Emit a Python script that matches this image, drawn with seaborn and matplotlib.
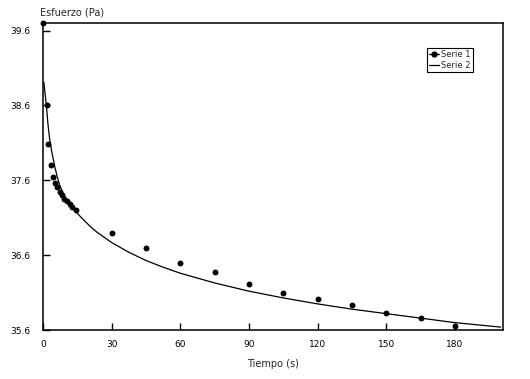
import matplotlib
matplotlib.use("Agg")
import matplotlib.pyplot as plt
from matplotlib.lines import Line2D
import seaborn as sns
import pandas as pd

# Serie 1: measured points
t_points = [0, 1.6, 2.4, 3.5, 4.4, 5.4, 6.2, 7.4, 8.3, 9.1, 10.4, 11.8, 12.8, 14.3,
            30, 45, 60, 75, 90, 105, 120, 135, 150, 165, 180]
stress_points = [39.7, 38.61, 38.08, 37.8, 37.65, 37.57, 37.51, 37.45, 37.40, 37.35, 37.32,
                 37.29, 37.24, 37.2, 36.90, 36.69, 36.49, 36.37, 36.22, 36.10, 36.02,
                 35.93, 35.83, 35.76, 35.66]

# Serie 2: fitted curve
t_curve = [0.4, 1.0, 1.5, 2.2, 2.9, 3.8, 5.2, 6.3, 7.4, 8.8, 10.3, 12.5, 14.7, 17.5, 20.5,
           23.5, 26.3, 30, 37.5, 45, 52.5, 60, 75, 90, 105, 120, 135, 150, 165, 180, 200]
stress_curve = [38.91, 38.74, 38.6, 38.35, 38.16, 37.99, 37.78, 37.64, 37.53, 37.43, 37.34,
                37.25, 37.17, 37.08, 36.99, 36.91, 36.85, 36.77, 36.64, 36.53, 36.44,
                36.36, 36.23, 36.12, 36.03, 35.95, 35.88, 35.82, 35.76, 35.70, 35.64]

x_ticks = [0, 30, 60, 90, 120, 150, 180]
y_ticks = [35.6, 36.6, 37.6, 38.6, 39.6]

df_pts = pd.DataFrame({"t": t_points, "s": stress_points})
df_fit = pd.DataFrame({"t": t_curve, "s": stress_curve})

sns.set_style("ticks")
plt.rcParams["font.family"] = ["DejaVu Sans"]

fig = plt.figure(figsize=(5.3, 3.79), dpi=100)
ax = fig.add_axes([0.081, 0.129, 0.868, 0.810])

sns.scatterplot(data=df_pts, x="t", y="s", ax=ax, color="black", s=18,
                edgecolor="black", linewidth=0, clip_on=False, zorder=3, legend=False)
sns.lineplot(data=df_fit, x="t", y="s", ax=ax, color="black", linewidth=0.9,
             sort=False, estimator=None, legend=False)

ax.set_xlim(0, 201)
ax.set_ylim(35.6, 39.7)
ax.set_xticks(x_ticks)
ax.set_yticks(y_ticks)
ax.set_yticklabels([f"{v:.1f}" for v in y_ticks])
ax.tick_params(direction="in", length=5, width=1, labelsize=6.5, colors="black")
ax.tick_params(axis="y", pad=9)
ax.tick_params(axis="x", pad=7)
for sp in ax.spines.values():
    sp.set_visible(True)
    sp.set_linewidth(1.1)
    sp.set_color("black")

ax.set_xlabel("Tiempo (s)", fontsize=7, labelpad=7)
ax.set_ylabel("")
ax.text(-0.006, 1.018, "Esfuerzo (Pa)", transform=ax.transAxes, fontsize=7, ha="left", va="bottom")

handles = [Line2D([], [], color="black", marker="o", markersize=3.5, linewidth=0.9),
           Line2D([], [], color="black", linewidth=0.9)]
leg = ax.legend(handles, ["Serie 1", "Serie 2"], loc="upper right",
                bbox_to_anchor=(0.935, 0.92), fontsize=6, frameon=True,
                fancybox=False, edgecolor="black", framealpha=1, handlelength=1.2,
                handletextpad=0.3, borderpad=0.25, labelspacing=0.3, borderaxespad=0)
leg.get_frame().set_linewidth(0.8)

fig.savefig("out.png", dpi=100)
